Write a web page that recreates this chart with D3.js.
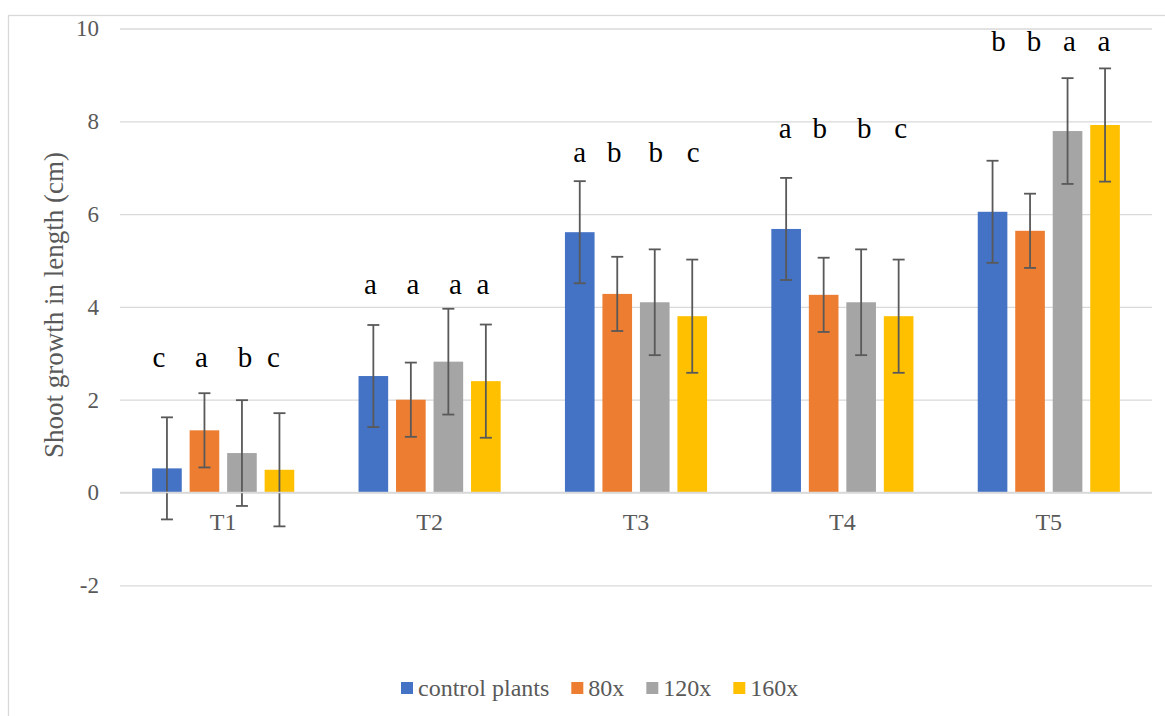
<!DOCTYPE html>
<html>
<head>
<meta charset="utf-8">
<script src="https://cdn.jsdelivr.net/npm/d3@7/dist/d3.min.js"></script>
<style>
  html, body { margin: 0; padding: 0; background: #ffffff; }
  svg { display: block; }
</style>
</head>
<body>
<svg id="chart" width="1165" height="716"></svg>
<script>
// Sampling times and treatments
const categories = ["T1", "T2", "T3", "T4", "T5"];
const seriesNames = ["control plants", "80x", "120x", "160x"];

// Mean shoot growth (cm) per treatment, one value per time point
const controlValues = [0.52, 2.51, 5.61, 5.68, 6.05];
const x80Values     = [1.34, 2.00, 4.28, 4.26, 5.64];
const x120Values    = [0.85, 2.82, 4.10, 4.10, 7.79];
const x160Values    = [0.49, 2.40, 3.80, 3.80, 7.92];

// Error (± cm) for each bar
const controlErrors = [1.10, 1.10, 1.10, 1.10, 1.10];
const x80Errors     = [0.80, 0.80, 0.80, 0.80, 0.80];
const x120Errors    = [1.14, 1.14, 1.14, 1.14, 1.14];
const x160Errors    = [1.22, 1.22, 1.22, 1.22, 1.22];

// Significance letters per time point (control, 80x, 120x, 160x)
const letters = [
  ["c", "a", "b", "c"],
  ["a", "a", "a", "a"],
  ["a", "b", "b", "c"],
  ["a", "b", "b", "c"],
  ["b", "b", "a", "a"]
];

const yTicks = [-2, 0, 2, 4, 6, 8, 10];
const yTickLabels = ["-2", "0", "2", "4", "6", "8", "10"];

// ---- font: first installed serif face, else a sans fallback ----
function pickFont(candidates, fallback) {
  const ctx = document.createElement("canvas").getContext("2d");
  const probe = "Shoot growth in length (cm) 0123456789 abc";
  ctx.font = "40px monospace";
  const base = ctx.measureText(probe).width;
  for (const f of candidates) {
    ctx.font = `40px "${f}", monospace`;
    if (Math.abs(ctx.measureText(probe).width - base) > 0.5) return `"${f}"`;
  }
  return fallback;
}
const FONT = pickFont(["Liberation Serif", "Tinos", "Times New Roman", "Noto Serif", "DejaVu Serif", "FreeSerif"], "'Liberation Sans', sans-serif");
const isSerif = FONT.indexOf("Sans") < 0;
const fs = s => isSerif ? s : Math.round(s * 0.9);

// ---- layout ----
const colors = ["#4472C4", "#ED7D31", "#A5A5A5", "#FFC000"];
const plot = { left: 120, right: 1152, top: 28.5, zero: 492.5 };
const unit = 46.4;

const svg = d3.select("#chart").attr("font-family", FONT);

// outer chart frame
svg.append("rect")
  .attr("x", 8.5).attr("y", 15.5)
  .attr("width", 1200).attr("height", 760)
  .attr("fill", "#ffffff")
  .attr("stroke", "#d9d9d9").attr("stroke-width", 1.3);

const y = d3.scaleLinear()
  .domain([-2, 10])
  .range([plot.zero + 2 * unit, plot.zero - 10 * unit]);

const x0 = d3.scaleBand()
  .domain(categories)
  .range([plot.left, plot.right])
  .paddingInner(0)
  .paddingOuter(0);

// four bars per group: width ~29.5 px with ~8 px gaps
const groupInner = 150;
const x1 = d3.scaleBand()
  .domain(d3.range(seriesNames.length))
  .range([(x0.bandwidth() - groupInner) / 2, (x0.bandwidth() + groupInner) / 2])
  .paddingInner(0.21)
  .paddingOuter(0.105);

// gridlines + tick labels
const yAxis = d3.axisLeft(y)
  .tickValues(yTicks)
  .tickSize(-(plot.right - plot.left))
  .tickPadding(21)
  .tickFormat((d, i) => yTickLabels[i]);

const gAxis = svg.append("g")
  .attr("transform", `translate(${plot.left},0)`)
  .call(yAxis)
  .attr("font-family", FONT)
  .attr("font-size", fs(23));
gAxis.select(".domain").remove();
gAxis.selectAll(".tick line")
  .attr("stroke", "#d9d9d9")
  .attr("stroke-width", 1.3);
gAxis.selectAll(".tick text")
  .attr("fill", "#595959");

// y-axis title
svg.append("text")
  .attr("transform", `translate(63, ${(152 + 458) / 2}) rotate(-90)`)
  .attr("text-anchor", "middle")
  .attr("fill", "#595959")
  .attr("font-size", fs(27))
  .text("Shoot growth in length (cm)");

// data table built from the named arrays
const valueSets = [controlValues, x80Values, x120Values, x160Values];
const errorSets = [controlErrors, x80Errors, x120Errors, x160Errors];
const rows = categories.map((c, i) => ({
  cat: c,
  items: seriesNames.map((s, j) => ({
    s: j, value: valueSets[j][i], err: errorSets[j][i], letter: letters[i][j]
  }))
}));

const groups = svg.append("g")
  .selectAll("g")
  .data(rows)
  .join("g")
  .attr("transform", d => `translate(${x0(d.cat)},0)`);

groups.selectAll("rect")
  .data(d => d.items)
  .join("rect")
  .attr("x", d => x1(d.s))
  .attr("width", x1.bandwidth())
  .attr("y", d => y(Math.max(0, d.value)))
  .attr("height", d => Math.abs(y(d.value) - y(0)))
  .attr("fill", d => colors[d.s]);

// zero baseline
svg.append("line")
  .attr("x1", plot.left).attr("x2", plot.right)
  .attr("y1", y(0)).attr("y2", y(0))
  .attr("stroke", "#d9d9d9").attr("stroke-width", 1.6);

// category labels
svg.append("g")
  .selectAll("text")
  .data(categories)
  .join("text")
  .attr("x", d => x0(d) + x0.bandwidth() / 2)
  .attr("y", y(0) + 37)
  .attr("text-anchor", "middle")
  .attr("fill", "#595959")
  .attr("font-size", fs(24))
  .text(d => d);

// error bars
const capHalf = 6;
const eb = groups.selectAll("g.err")
  .data(d => d.items)
  .join("g")
  .attr("class", "err")
  .attr("stroke", "#595959")
  .attr("stroke-width", 1.8);
eb.append("line")
  .attr("x1", d => x1(d.s) + x1.bandwidth() / 2)
  .attr("x2", d => x1(d.s) + x1.bandwidth() / 2)
  .attr("y1", d => y(d.value + d.err))
  .attr("y2", d => y(d.value - d.err));
eb.append("line")
  .attr("x1", d => x1(d.s) + x1.bandwidth() / 2 - capHalf)
  .attr("x2", d => x1(d.s) + x1.bandwidth() / 2 + capHalf)
  .attr("y1", d => y(d.value + d.err))
  .attr("y2", d => y(d.value + d.err));
eb.append("line")
  .attr("x1", d => x1(d.s) + x1.bandwidth() / 2 - capHalf)
  .attr("x2", d => x1(d.s) + x1.bandwidth() / 2 + capHalf)
  .attr("y1", d => y(d.value - d.err))
  .attr("y2", d => y(d.value - d.err));

// significance letters: text boxes placed above each group
const letterLevels = [2.71, 4.27, 7.13, 7.65, 9.52];
const letterShift = [
  [-8, -3, 3, -6],
  [-3, 2, 7, -3],
  [0, -3, 1, 1],
  [-1, -4, 3, 2],
  [6, 4, 2, -1]
];
groups.each(function (row, i) {
  d3.select(this).selectAll("text.sig")
    .data(row.items)
    .join("text")
    .attr("class", "sig")
    .attr("x", d => x1(d.s) + x1.bandwidth() / 2 + letterShift[i][d.s])
    .attr("y", y(letterLevels[i]))
    .attr("text-anchor", "middle")
    .attr("fill", "#000000")
    .attr("font-size", fs(29))
    .text(d => d.letter);
});

// legend
const legend = svg.append("g").attr("transform", "translate(401,0)");
let lx = 0;
seriesNames.forEach((name, j) => {
  legend.append("rect")
    .attr("x", lx).attr("y", 682)
    .attr("width", 12).attr("height", 12)
    .attr("fill", colors[j]);
  const t = legend.append("text")
    .attr("x", lx + 17).attr("y", 696)
    .attr("fill", "#595959")
    .attr("font-size", fs(24))
    .text(name);
  lx += 17 + t.node().getComputedTextLength() + 22;
});
</script>
</body>
</html>
